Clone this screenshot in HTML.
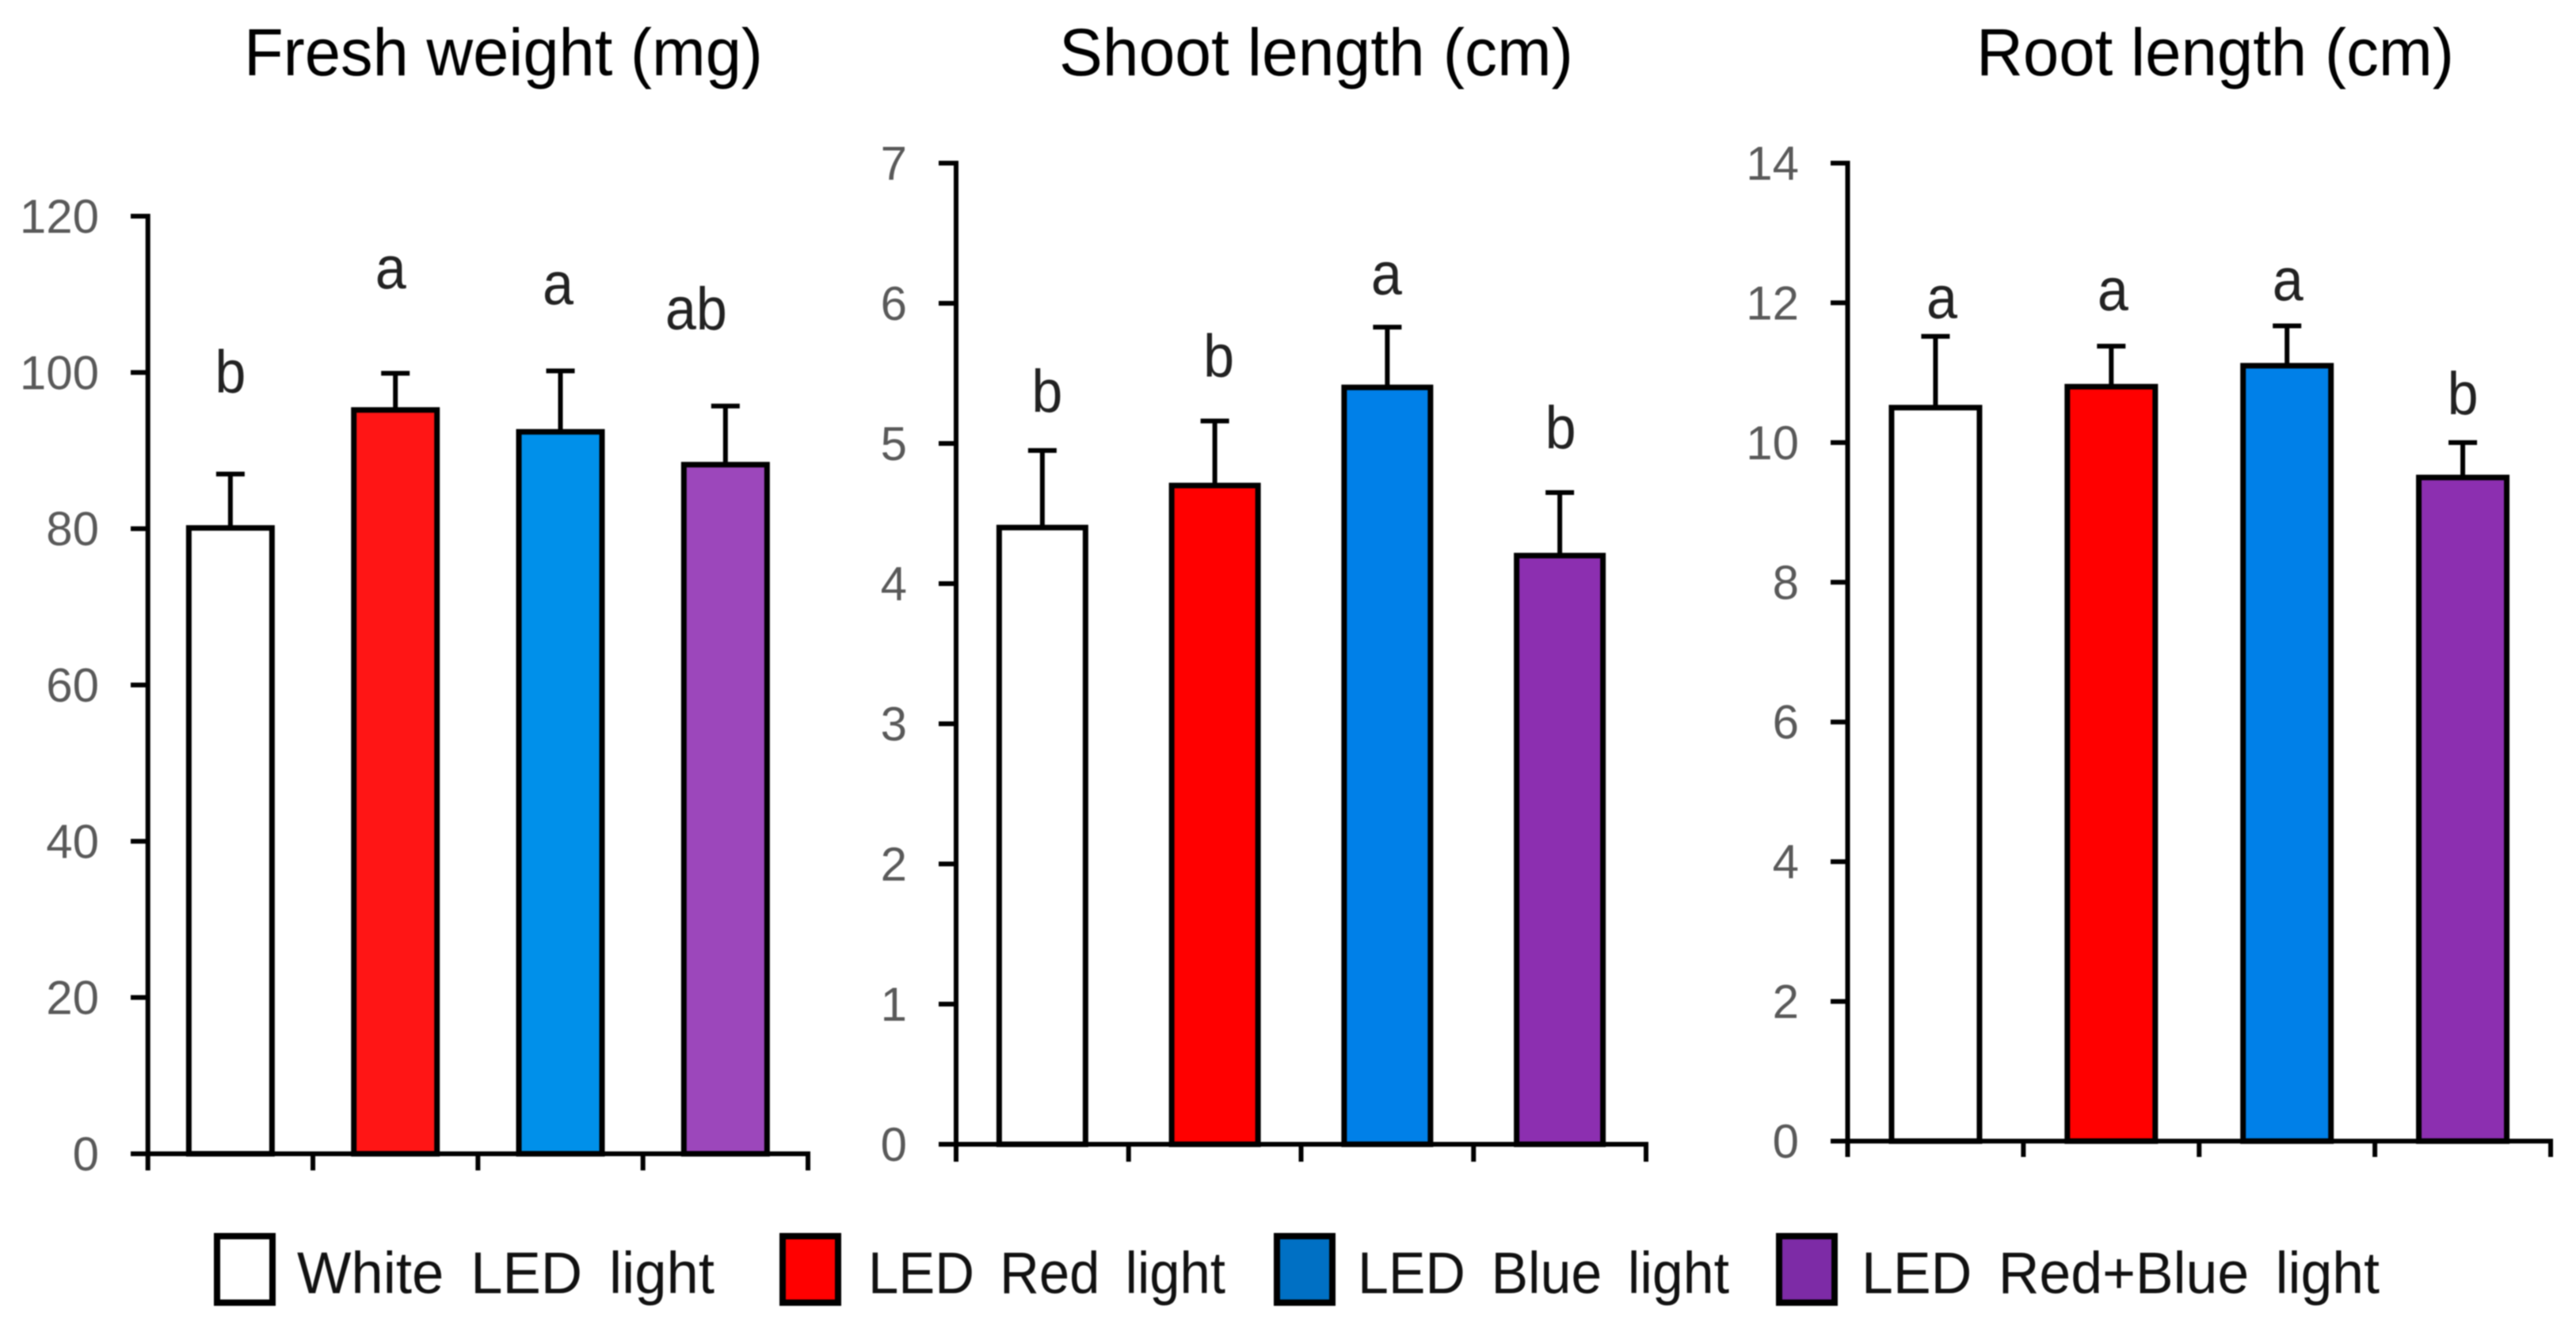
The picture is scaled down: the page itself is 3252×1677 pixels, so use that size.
<!DOCTYPE html>
<html lang="en">
<head>
<meta charset="utf-8">
<title>LED light effects on fresh weight, shoot length and root length</title>
<style>
  html, body { margin: 0; padding: 0; background: #fff; width: 3252px; height: 1677px; overflow: hidden; }
  svg { display: block; filter: blur(0.9px); }
  text { font-family: "Liberation Sans", "DejaVu Sans", sans-serif; }
</style>
</head>
<body>
<svg id="figure" xmlns="http://www.w3.org/2000/svg" width="3252" height="1677" viewBox="0 0 3252 1677">
  <rect x="0" y="0" width="3252" height="1677" fill="#fff"/>
  <g id="panels"></g>
  <text x="308" y="95" font-size="84" fill="#000" textLength="655" lengthAdjust="spacingAndGlyphs">Fresh weight (mg)</text>
  <text x="1337" y="95" font-size="84" fill="#000" textLength="649" lengthAdjust="spacingAndGlyphs">Shoot length (cm)</text>
  <text x="2495" y="95" font-size="84" fill="#000" textLength="603" lengthAdjust="spacingAndGlyphs">Root length (cm)</text>
  <g>
    <g>
      <rect x="274" y="1561" width="70" height="84" fill="#fff" stroke="#000" stroke-width="8"/>
      <text x="375" y="1633" font-size="74" fill="#111" word-spacing="14" textLength="527" lengthAdjust="spacingAndGlyphs">White LED light</text>
    </g>
    <g>
      <rect x="988" y="1561" width="70" height="84" fill="#ff0000" stroke="#000" stroke-width="8"/>
      <text x="1096" y="1633" font-size="74" fill="#111" word-spacing="14" textLength="451" lengthAdjust="spacingAndGlyphs">LED Red light</text>
    </g>
    <g>
      <rect x="1612" y="1561" width="70" height="84" fill="#0070c4" stroke="#000" stroke-width="8"/>
      <text x="1714" y="1633" font-size="74" fill="#111" word-spacing="14" textLength="469" lengthAdjust="spacingAndGlyphs">LED Blue light</text>
    </g>
    <g>
      <rect x="2246" y="1561" width="70" height="84" fill="#7d2ba6" stroke="#000" stroke-width="8"/>
      <text x="2350" y="1633" font-size="74" fill="#111" word-spacing="14" textLength="654" lengthAdjust="spacingAndGlyphs">LED Red+Blue light</text>
    </g>
  </g>
</svg>
<script>
// ---- Data ----
const categories = ["white", "red", "blue", "red-blue"];

const freshWeightValues = [80.1, 95.2, 92.4, 88.2];
const freshWeightErrors = [6.9, 4.7, 7.8, 7.5];
const freshWeightLetters = ["b", "a", "a", "ab"];
const freshWeightTicks = ["0", "20", "40", "60", "80", "100", "120"];

const shootLengthValues = [4.4, 4.7, 5.4, 4.2];
const shootLengthErrors = [0.55, 0.46, 0.43, 0.45];
const shootLengthLetters = ["b", "b", "a", "b"];
const shootLengthTicks = ["0", "1", "2", "3", "4", "5", "6", "7"];

const rootLengthValues = [10.5, 10.8, 11.1, 9.5];
const rootLengthErrors = [1.02, 0.58, 0.57, 0.5];
const rootLengthLetters = ["a", "a", "a", "b"];
const rootLengthTicks = ["0", "2", "4", "6", "8", "10", "12", "14"];

// ---- Layout ----
const SVG_NS = "http://www.w3.org/2000/svg";
const panelsLayer = document.getElementById("panels");

const panels = [
  {
    id: "fresh-weight", values: freshWeightValues, errors: freshWeightErrors,
    letters: freshWeightLetters, ticks: freshWeightTicks,
    left: 186.7, right: 1020, top: 273, bottom: 1457, barWidth: 105,
    fills: ["#ffffff", "#ff1515", "#0090ea", "#9c47bb"],
    letterLift: [103, 107, 84, 97], letterShift: [0, -6, -3, -37],
    labelRight: 125, tickLeft: 165, tickDown: 21
  },
  {
    id: "shoot-length", values: shootLengthValues, errors: shootLengthErrors,
    letters: shootLengthLetters, ticks: shootLengthTicks,
    left: 1207, right: 2078, top: 206, bottom: 1445, barWidth: 109,
    fills: ["#ffffff", "#ff0000", "#0080e8", "#8c2fb0"],
    letterLift: [49, 56, 41, 56], letterShift: [6, 5, -1, 1],
    labelRight: 1145, tickLeft: 1185, tickDown: 22
  },
  {
    id: "root-length", values: rootLengthValues, errors: rootLengthErrors,
    letters: rootLengthLetters, ticks: rootLengthTicks,
    left: 2332.5, right: 3220, top: 206, bottom: 1441, barWidth: 111,
    fills: ["#ffffff", "#ff0000", "#0080e8", "#8c2fb0"],
    letterLift: [23, 45, 32, 36], letterShift: [8, 2, 1, 0],
    labelRight: 2271, tickLeft: 2311, tickDown: 20
  }
];

function makeEl(tag, attrs, text) {
  const node = document.createElementNS(SVG_NS, tag);
  Object.keys(attrs).forEach(function (k) { node.setAttribute(k, attrs[k]); });
  if (text !== undefined) node.textContent = text;
  return node;
}

function drawPanel(p) {
  const group = makeEl("g", {});
  
  
  panelsLayer.appendChild(group);

  const yMax = Number(p.ticks[p.ticks.length - 1]);
  const yScale = function (v) { return p.bottom - (v / yMax) * (p.bottom - p.top); };
  const band = (p.right - p.left) / categories.length;
  const xCenter = function (i) { return p.left + (i + 0.5) * band; };
  const errCapHalf = 18;

  // error bars sit behind the bars
  categories.forEach(function (cat, i) {
    const cx = xCenter(i);
    const capY = yScale(p.values[i] + p.errors[i]);
    const stem = makeEl("line", { x1: cx, x2: cx, y1: yScale(p.values[i]), y2: capY, stroke: "#000", "stroke-width": 6 });
    
    
    group.appendChild(stem);
    const cap = makeEl("line", { x1: cx - errCapHalf, x2: cx + errCapHalf, y1: capY, y2: capY, stroke: "#000", "stroke-width": 6 });
    
    
    group.appendChild(cap);
  });

  // bars
  categories.forEach(function (cat, i) {
    const topY = yScale(p.values[i]);
    const bar = makeEl("rect", {
      x: xCenter(i) - p.barWidth / 2, y: topY, width: p.barWidth, height: p.bottom - topY,
      fill: p.fills[i], stroke: "#000", "stroke-width": 7
    });
    
    
    group.appendChild(bar);
  });

  // significance letters
  categories.forEach(function (cat, i) {
    const capY = yScale(p.values[i] + p.errors[i]);
    const letter = makeEl("text", {
      x: xCenter(i) + p.letterShift[i] - p.letters[i].length * 19.5, y: capY - p.letterLift[i],
      "font-size": 76, fill: "#222",
      textLength: p.letters[i].length * 39, lengthAdjust: "spacingAndGlyphs"
    }, p.letters[i]);
    
    
    group.appendChild(letter);
  });

  // y axis
  const yAxis = makeEl("line", { x1: p.left, x2: p.left, y1: p.top - 3, y2: p.bottom + p.tickDown, stroke: "#000", "stroke-width": 6 });
  
  
  group.appendChild(yAxis);

  p.ticks.forEach(function (label) {
    const ty = yScale(Number(label));
    const tick = makeEl("line", { x1: p.tickLeft, x2: p.left, y1: ty, y2: ty, stroke: "#000", "stroke-width": 6 });
    
    
    group.appendChild(tick);
    const tickLabel = makeEl("text", {
      x: p.labelRight, y: ty + 21, "font-size": 60, fill: "#595959", "text-anchor": "end"
    }, label);
    
    
    group.appendChild(tickLabel);
  });

  // x axis
  const xAxis = makeEl("line", { x1: p.tickLeft, x2: p.right + 3, y1: p.bottom, y2: p.bottom, stroke: "#000", "stroke-width": 6 });
  
  
  group.appendChild(xAxis);

  for (let i = 1; i <= categories.length; i++) {
    const tx = p.left + i * band;
    const xTick = makeEl("line", { x1: tx, x2: tx, y1: p.bottom, y2: p.bottom + p.tickDown, stroke: "#000", "stroke-width": 6 });
    
    
    group.appendChild(xTick);
  }
}

panels.forEach(drawPanel);
</script>
</body>
</html>
